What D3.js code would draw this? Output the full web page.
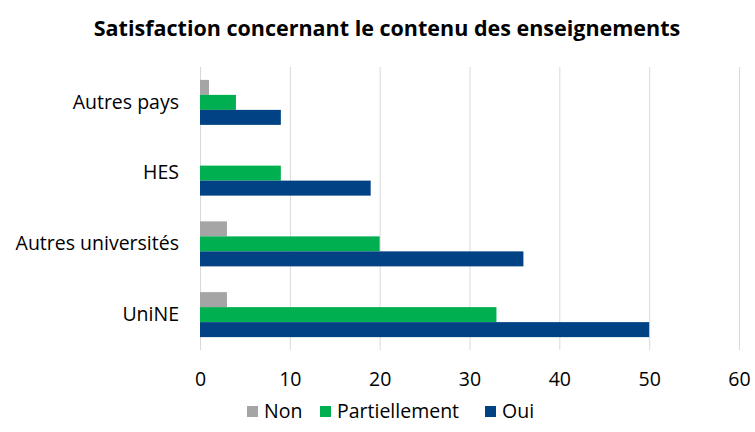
<!DOCTYPE html>
<html>
<head>
<meta charset="utf-8">
<script src="https://cdn.jsdelivr.net/npm/d3@7"></script>
<style>
  body { margin: 0; background: #fff; }
  text { font-family: "Open Sans", sans-serif; fill: #000; }
</style>
</head>
<body>
<svg id="chart" width="755" height="432"></svg>
<script>
// chart data
var categories = ["Autres pays", "HES", "Autres universités", "UniNE"];
var seriesNames = ["Non", "Partiellement", "Oui"];
var nonValues = [1, 0, 3, 3];
var partiellementValues = [4, 9, 20, 33];
var ouiValues = [9, 19, 36, 50];
var xTicks = [0, 10, 20, 30, 40, 50, 60];
var colors = ["#a5a5a5", "#00b050", "#004283"];

var svg = d3.select("#chart");
var plotLeft = 200, plotRight = 739, plotTop = 67, plotBottom = 350;
var labelFont = "Open Sans, sans-serif";

var rows = categories.map(function(c, i) {
	return { cat: c, values: [nonValues[i], partiellementValues[i], ouiValues[i]] };
});

var xScale = d3.scaleLinear()
	.domain([0, 60])
	.range([plotLeft, plotRight]);

var yScale = d3.scaleBand()
	.domain(categories)
	.range([plotTop, plotBottom])
	.paddingInner(0.364)
	.paddingOuter(0.182);

var inner = d3.scaleBand()
	.domain(seriesNames)
	.range([0, yScale.bandwidth()]);

// gridlines
svg.append("g")
	.selectAll("line")
	.data(xTicks)
	.enter()
	.append("line")
	.attr("x1", d => xScale(d) + 0.5)
	.attr("x2", d => xScale(d) + 0.5)
	.attr("y1", plotTop)
	.attr("y2", plotBottom)
	.attr("stroke", "#d9d9d9")
	.attr("stroke-width", 1);

// bars
var groups = svg.append("g")
	.selectAll("g")
	.data(rows)
	.enter()
	.append("g")
	.attr("transform", d => "translate(0," + yScale(d.cat) + ")");

groups.selectAll("rect")
	.data(d => d.values.map((v, i) => ({ name: seriesNames[i], value: v, color: colors[i] })))
	.enter()
	.append("rect")
	.attr("x", xScale(0))
	.attr("y", d => inner(d.name))
	.attr("width", d => xScale(d.value) - xScale(0))
	.attr("height", inner.bandwidth())
	.attr("fill", d => d.color);

// x axis labels
var xAxis = d3.axisBottom(xScale).tickValues(xTicks).tickSize(0).tickPadding(0);
var xg = svg.append("g")
	.attr("transform", "translate(0,386)")
	.call(xAxis);
xg.select(".domain").remove();
xg.selectAll("text")
	.attr("dy", 0)
	.attr("font-size", "19.5px")
	.attr("font-family", labelFont);

// y axis labels
var yAxis = d3.axisLeft(yScale).tickSize(0).tickPadding(21);
var yg = svg.append("g")
	.attr("transform", "translate(" + plotLeft + ",0)")
	.call(yAxis);
yg.select(".domain").remove();
yg.selectAll("text")
	.attr("font-size", "19.5px")
	.attr("font-family", labelFont);

// title
svg.append("text")
	.attr("x", 387)
	.attr("y", 36)
	.attr("text-anchor", "middle")
	.attr("font-size", "21.5px")
	.attr("font-weight", "bold")
	.text("Satisfaction concernant le contenu des enseignements");

// legend
var legendX = [247, 320, 485];
var legend = svg.append("g")
	.selectAll("g")
	.data(seriesNames)
	.enter()
	.append("g")
	.attr("transform", (d, i) => "translate(" + legendX[i] + ",406)");

legend.append("rect")
	.attr("width", 11)
	.attr("height", 11)
	.attr("fill", (d, i) => colors[i]);

legend.append("text")
	.attr("x", 17)
	.attr("y", 12)
	.attr("font-size", "19.5px")
	.text(d => d);
</script>
</body>
</html>
